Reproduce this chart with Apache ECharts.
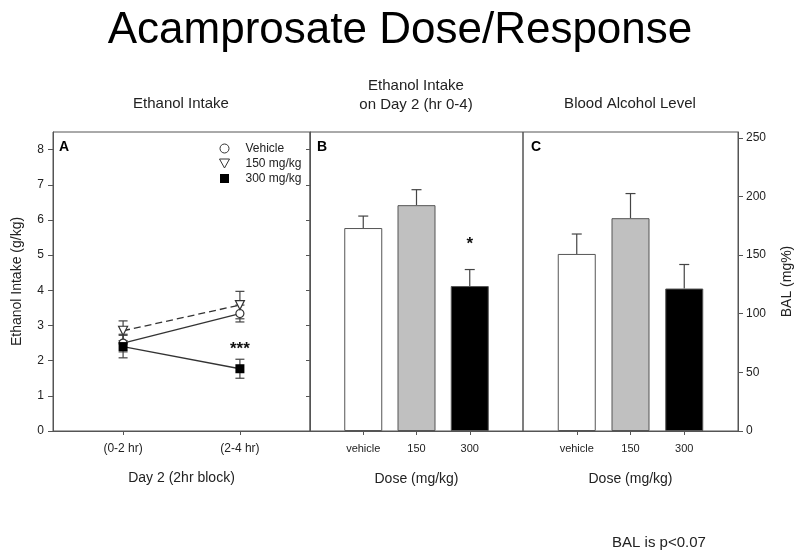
<!DOCTYPE html>
<html>
<head>
<meta charset="utf-8">
<script src="https://cdn.jsdelivr.net/npm/echarts@6/dist/echarts.min.js"></script>
<style>html,body{margin:0;padding:0;background:#fff}#c{width:800px;height:555px}</style>
</head>
<body>
<div id="c"></div>
<script>
// ---- Data ----
const blockLabels = ['(0-2 hr)', '(2-4 hr)'];
const vehicleA = [2.50, 3.34];
const vehicleAErr = [0.25, 0.24];
const mg150A = [2.85, 3.58];
const mg150AErr = [0.28, 0.39];
const mg300A = [2.40, 1.77];
const mg300AErr = [0.32, 0.27];
const doseCats = ['vehicle', '150', '300'];
const intakeB = [5.77, 6.42, 4.12];
const intakeBErr = [0.34, 0.44, 0.47];
const balC = [151, 181.5, 121.5];
const balCErr = [17, 21, 20.5];
const intakeTicks = [0, 1, 2, 3, 4, 5, 6, 7, 8];
const balTicks = [0, 50, 100, 150, 200, 250];
const seriesNames = ['Vehicle', '150 mg/kg', '300 mg/kg'];
const barColors = ['#ffffff', '#c0c0c0', '#000000'];

const FONT = 'Liberation Sans, Arial, sans-serif';
const AX = '#555';
const TXT = '#222';

const chart = echarts.init(document.getElementById('c'), null, {renderer: 'canvas'});

function errRender(both, capW) {
  return function (params, api) {
    const x = api.value(0), v = api.value(1), e = api.value(2);
    const top = api.coord([x, v + e]);
    const bot = both ? api.coord([x, v - e]) : api.coord([x, v]);
    const st = {stroke: '#444', lineWidth: 1.2};
    const ch = [
      {type: 'line', shape: {x1: top[0], y1: top[1], x2: bot[0], y2: bot[1]}, style: st},
      {type: 'line', shape: {x1: top[0] - capW / 2, y1: top[1], x2: top[0] + capW / 2, y2: top[1]}, style: st}
    ];
    if (both) ch.push({type: 'line', shape: {x1: bot[0] - capW / 2, y1: bot[1], x2: bot[0] + capW / 2, y2: bot[1]}, style: st});
    return {type: 'group', children: ch};
  };
}
function starRender(txt) {
  return function (params, api) {
    const p = api.coord([api.value(0), api.value(1)]);
    return {type: 'text', style: {text: txt, x: p[0], y: p[1], align: 'center', verticalAlign: 'middle',
      font: 'bold 17px ' + FONT, fill: '#111'}};
  };
}
const idx = a => a.map((_, i) => i);
const pairs = (vals) => vals.map((v, i) => [i, v]);
const triples = (vals, errs) => vals.map((v, i) => [i, v, errs[i]]);

const axisLineCommon = {show: true, onZero: false, lineStyle: {color: AX, width: 1}};
const labelStyle = {color: TXT, fontFamily: FONT, fontSize: 11};

const option = {
  animation: false,
  backgroundColor: '#fff',
  textStyle: {fontFamily: FONT},
  graphic: [
    {type: 'text', left: 'center', top: 9, style: {text: 'Acamprosate Dose/Response', font: '44px ' + FONT, fill: '#000'}},
    {type: 'text', style: {text: 'Ethanol Intake', font: '15px ' + FONT, fill: TXT, x: 181, y: 104, align: 'center', verticalAlign: 'middle'}},
    {type: 'text', style: {text: 'Ethanol Intake\non Day 2 (hr 0-4)', font: '15px ' + FONT, fill: TXT, x: 416, y: 95, align: 'center', verticalAlign: 'middle', lineHeight: 19}},
    {type: 'text', style: {text: 'Blood Alcohol Level', font: '15px ' + FONT, fill: TXT, x: 630, y: 104, align: 'center', verticalAlign: 'middle'}},
    {type: 'text', style: {text: 'A', font: 'bold 14px ' + FONT, fill: '#000', x: 59, y: 147, verticalAlign: 'middle'}},
    {type: 'text', style: {text: 'B', font: 'bold 14px ' + FONT, fill: '#000', x: 317, y: 147, verticalAlign: 'middle'}},
    {type: 'text', style: {text: 'C', font: 'bold 14px ' + FONT, fill: '#000', x: 531, y: 147, verticalAlign: 'middle'}},
    {type: 'text', style: {text: 'BAL is p<0.07', font: '15px ' + FONT, fill: TXT, x: 659, y: 543, align: 'center', verticalAlign: 'middle'}}
  ],
  legend: {
    left: 214, top: 137, orient: 'vertical', itemGap: 2, itemWidth: 32, itemHeight: 9,
    textStyle: {fontFamily: FONT, fontSize: 12, color: TXT, lineHeight: 13},
    data: [
      {name: seriesNames[0], icon: 'circle', itemStyle: {color: '#fff', borderColor: '#333', borderWidth: 1}},
      {name: seriesNames[1], icon: 'path://M0,0 L10,0 L5,9 Z', itemStyle: {color: '#fff', borderColor: '#333', borderWidth: 1}},
      {name: seriesNames[2], icon: 'path://M0,0 L10,0 L10,10 L0,10 Z', itemStyle: {color: '#000', borderWidth: 0}}
    ]
  },
  grid: [
    {left: 53, top: 132, width: 257, height: 299, show: true, borderColor: AX, borderWidth: 1},
    {left: 310, top: 132, width: 213, height: 299, show: true, borderColor: AX, borderWidth: 1},
    {left: 523, top: 132, width: 215, height: 299, show: true, borderColor: AX, borderWidth: 1}
  ],
  xAxis: [
    {gridIndex: 0, type: 'value', min: -0.6, max: 1.6, splitLine: {show: false}, axisLine: axisLineCommon,
     axisTick: {show: true, length: 4, customValues: idx(blockLabels), lineStyle: {color: AX}},
     axisLabel: Object.assign({customValues: idx(blockLabels), formatter: v => blockLabels[Math.round(v)], margin: 12}, labelStyle, {fontSize: 12}),
     name: 'Day 2 (2hr block)', nameLocation: 'middle', nameGap: 40, nameTextStyle: {fontFamily: FONT, fontSize: 14, color: TXT}},
    {gridIndex: 1, type: 'value', min: -1, max: 3, splitLine: {show: false}, axisLine: axisLineCommon,
     axisTick: {show: true, length: 4, customValues: idx(doseCats), lineStyle: {color: AX}},
     axisLabel: Object.assign({customValues: idx(doseCats), formatter: v => doseCats[Math.round(v)], margin: 12}, labelStyle),
     name: 'Dose (mg/kg)', nameLocation: 'middle', nameGap: 41, nameTextStyle: {fontFamily: FONT, fontSize: 14, color: TXT}},
    {gridIndex: 2, type: 'value', min: -1, max: 3, splitLine: {show: false}, axisLine: axisLineCommon,
     axisTick: {show: true, length: 4, customValues: idx(doseCats), lineStyle: {color: AX}},
     axisLabel: Object.assign({customValues: idx(doseCats), formatter: v => doseCats[Math.round(v)], margin: 12}, labelStyle),
     name: 'Dose (mg/kg)', nameLocation: 'middle', nameGap: 41, nameTextStyle: {fontFamily: FONT, fontSize: 14, color: TXT}}
  ],
  yAxis: [
    {gridIndex: 0, type: 'value', position: 'left', min: 0, max: 8.5, splitLine: {show: false}, axisLine: axisLineCommon,
     axisTick: {show: true, length: 5, customValues: intakeTicks, lineStyle: {color: AX}},
     axisLabel: Object.assign({customValues: intakeTicks, margin: 9}, labelStyle, {fontSize: 12}),
     name: 'Ethanol Intake (g/kg)', nameLocation: 'middle', nameGap: 29, nameTextStyle: {fontFamily: FONT, fontSize: 14, color: TXT}},
    {gridIndex: 1, type: 'value', position: 'left', min: 0, max: 8.5, splitLine: {show: false}, axisLine: axisLineCommon,
     axisTick: {show: true, length: 4, customValues: intakeTicks, lineStyle: {color: AX}},
     axisLabel: {show: false}},
    {gridIndex: 2, type: 'value', position: 'right', min: 0, max: 255, splitLine: {show: false}, axisLine: axisLineCommon,
     axisTick: {show: true, length: 5, customValues: balTicks, lineStyle: {color: AX}},
     axisLabel: Object.assign({customValues: balTicks, margin: 8}, labelStyle, {fontSize: 12}),
     name: 'BAL (mg%)', nameLocation: 'middle', nameGap: 42, nameRotate: 90, nameTextStyle: {fontFamily: FONT, fontSize: 14, color: TXT}}
  ],
  series: [
    // Panel A error bars
    {type: 'custom', xAxisIndex: 0, yAxisIndex: 0, renderItem: errRender(true, 9), data: triples(vehicleA, vehicleAErr), z: 1},
    {type: 'custom', xAxisIndex: 0, yAxisIndex: 0, renderItem: errRender(true, 9), data: triples(mg150A, mg150AErr), z: 1},
    {type: 'custom', xAxisIndex: 0, yAxisIndex: 0, renderItem: errRender(true, 9), data: triples(mg300A, mg300AErr), z: 1},
    // Panel A lines
    {name: seriesNames[0], type: 'line', xAxisIndex: 0, yAxisIndex: 0, data: pairs(vehicleA), symbol: 'circle', symbolSize: 8,
     lineStyle: {color: '#333', width: 1.3}, itemStyle: {color: '#fff', borderColor: '#333', borderWidth: 1.2}, z: 3},
    {name: seriesNames[1], type: 'line', xAxisIndex: 0, yAxisIndex: 0, data: pairs(mg150A), symbol: 'triangle', symbolRotate: 180, symbolSize: 9,
     lineStyle: {color: '#333', width: 1.3, type: [7, 4]}, itemStyle: {color: '#fff', borderColor: '#333', borderWidth: 1.2}, z: 3},
    {name: seriesNames[2], type: 'line', xAxisIndex: 0, yAxisIndex: 0, data: pairs(mg300A), symbol: 'rect', symbolSize: 9,
     lineStyle: {color: '#333', width: 1.3}, itemStyle: {color: '#000', borderColor: '#000', borderWidth: 0}, z: 4},
    // Stars in A
    {type: 'custom', xAxisIndex: 0, yAxisIndex: 0, renderItem: starRender('***'),
     data: [[1, mg300A[1] + mg300AErr[1] + 0.28]], silent: true, z: 5},
    // Panel B bars
    {type: 'bar', xAxisIndex: 1, yAxisIndex: 1, barWidth: 38,
     data: intakeB.map((v, i) => ({value: [i, v], itemStyle: {color: barColors[i], borderColor: '#555', borderWidth: 1}})), z: 2},
    {type: 'custom', xAxisIndex: 1, yAxisIndex: 1, renderItem: errRender(false, 10), data: triples(intakeB, intakeBErr), z: 1},
    {type: 'custom', xAxisIndex: 1, yAxisIndex: 1, renderItem: starRender('*'),
     data: [[2, intakeB[2] + intakeBErr[2] + 0.72]], silent: true, z: 5},
    // Panel C bars
    {type: 'bar', xAxisIndex: 2, yAxisIndex: 2, barWidth: 38,
     data: balC.map((v, i) => ({value: [i, v], itemStyle: {color: barColors[i], borderColor: '#555', borderWidth: 1}})), z: 2},
    {type: 'custom', xAxisIndex: 2, yAxisIndex: 2, renderItem: errRender(false, 10), data: triples(balC, balCErr), z: 1}
  ]
};
chart.setOption(option);
</script>
</body>
</html>
